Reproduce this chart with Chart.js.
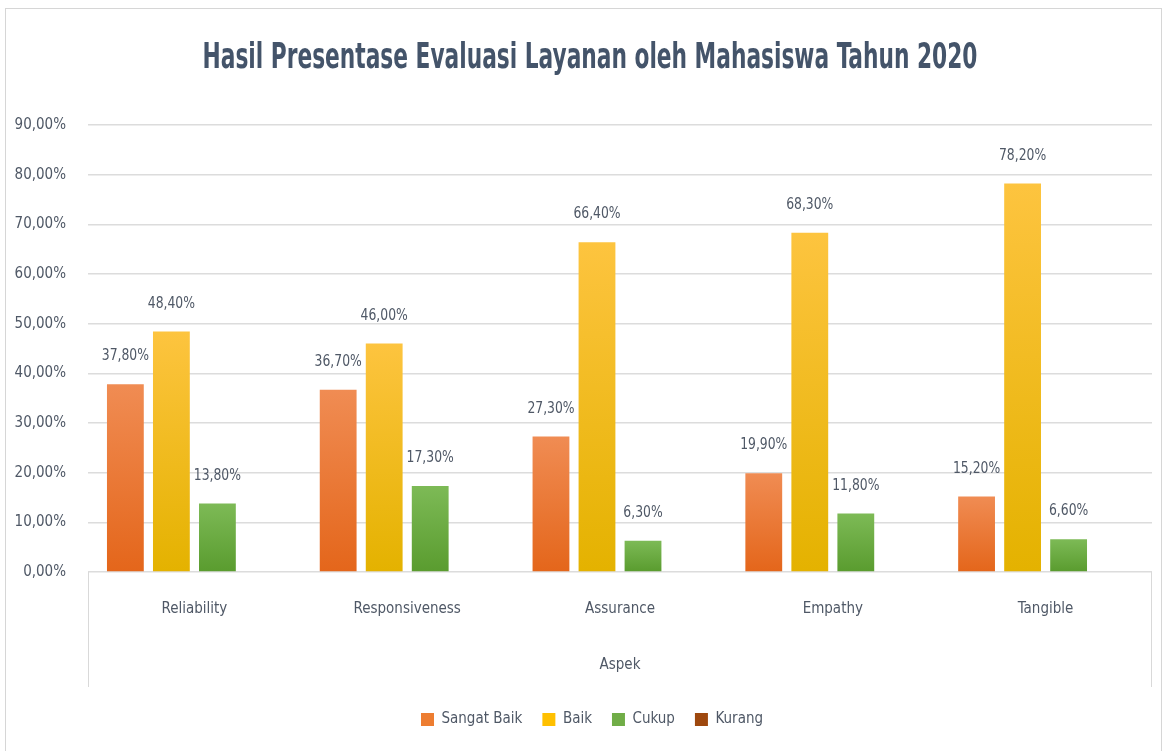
<!DOCTYPE html>
<html>
<head>
<meta charset="utf-8">
<script src="https://cdn.jsdelivr.net/npm/chart.js@4.4.1/dist/chart.umd.min.js"></script>
<style>
  html, body { margin: 0; padding: 0; background: #fff; }
  #frame { position: absolute; left: 5px; top: 8px; width: 1157px; height: 760px; border: 1px solid #d6d6d6; box-sizing: border-box; }
  #wrap { position: absolute; left: 0; top: 0; width: 1170px; height: 751px; }
</style>
</head>
<body>
<div id="frame"></div>
<div id="wrap"><canvas id="c" width="1170" height="751"></canvas></div>
<script>
const categories = ['Reliability', 'Responsiveness', 'Assurance', 'Empathy', 'Tangible'];
const seriesNames = ['Sangat Baik', 'Baik', 'Cukup', 'Kurang'];
const sangatBaik = [37.8, 36.7, 27.3, 19.9, 15.2];
const baik = [48.4, 46.0, 66.4, 68.3, 78.2];
const cukup = [13.8, 17.3, 6.3, 11.8, 6.6];
const kurang = [0, 0, 0, 0, 0];
const yTicks = [0, 10, 20, 30, 40, 50, 60, 70, 80, 90];
const titleText = 'Hasil Presentase Evaluasi Layanan oleh Mahasiswa Tahun 2020';
const axisTitle = 'Aspek';

const FONT = "'DejaVu Sans Condensed', 'Liberation Sans Narrow', 'Roboto', sans-serif";
const TXT = '#4f5866';

const solid = ['#ed7d31', '#ffc000', '#70ad47', '#9e480e'];
const grads = [
  ['#f08c53', '#e4661b'],
  ['#fdc43f', '#e4b200'],
  ['#7dba56', '#5a9c2f'],
  ['#b0551a', '#8c3d0b']
];

function fmt(v) { return v.toFixed(2).replace('.', ',') + '%'; }

const gradientPlugin = {
  id: 'barGradient',
  beforeDatasetsDraw(chart) {
    const ctx = chart.ctx;
    chart.data.datasets.forEach((ds, di) => {
      const meta = chart.getDatasetMeta(di);
      meta.data.forEach(el => {
        const top = Math.min(el.y, el.base), bot = Math.max(el.y, el.base);
        if (bot - top < 1) return;
        const g = ctx.createLinearGradient(0, top, 0, bot);
        g.addColorStop(0, grads[di][0]);
        g.addColorStop(1, grads[di][1]);
        el.options = Object.assign({}, el.options, { backgroundColor: g });
      });
    });
  }
};

const labelPlugin = {
  id: 'valueLabels',
  afterDatasetsDraw(chart) {
    const ctx = chart.ctx;
    chart.data.datasets.forEach((ds, di) => {
      const meta = chart.getDatasetMeta(di);
      meta.data.forEach((el, i) => {
        const v = ds.data[i];
        if (!v) return;
        ctx.save();
        ctx.font = "16px " + FONT;
        ctx.fillStyle = TXT;
        ctx.textAlign = 'center';
        ctx.textBaseline = 'middle';
        ctx.translate(el.x, el.y - 28);
        ctx.scale(0.86, 1);
        ctx.fillText(fmt(v), 0, 0);
        ctx.restore();
      });
    });
  }
};

const boxPlugin = {
  id: 'axisBox',
  afterLayout(chart) {
    if (chart.legend) { chart.legend.left += 11; chart.legend.right += 11; }
  },
  afterDraw(chart) {
    const a = chart.chartArea;
    const ctx = chart.ctx;
    ctx.save();
    ctx.strokeStyle = '#d9d9d9';
    ctx.lineWidth = 1;
    ctx.beginPath();
    ctx.moveTo(Math.round(a.left) + 0.5, a.bottom);
    ctx.lineTo(Math.round(a.left) + 0.5, a.bottom + 115);
    ctx.moveTo(Math.round(a.right) - 0.5, a.bottom);
    ctx.lineTo(Math.round(a.right) - 0.5, a.bottom + 115);
    ctx.stroke();
    ctx.restore();
  }
};

const condensedTitle = {
  id: 'condensedTitle',
  afterLayout(chart) {
    const tb = chart.titleBlock;
    if (!tb || tb._condensed) return;
    const orig = tb.draw.bind(tb);
    tb.draw = function (area) {
      const ctx = chart.ctx;
      const cx = (tb.left + tb.right) / 2;
      ctx.save();
      ctx.translate(cx + 9, 0);
      ctx.scale(0.69, 1);
      ctx.translate(-cx, 0);
      orig(area);
      ctx.restore();
    };
    tb._condensed = true;
  }
};

const seriesData = [sangatBaik, baik, cukup, kurang];

new Chart(document.getElementById('c'), {
  type: 'bar',
  data: {
    labels: categories,
    datasets: seriesNames.map((n, i) => ({
      label: n,
      data: seriesData[i],
      backgroundColor: solid[i],
      borderWidth: 0,
      categoryPercentage: 0.865,
      barPercentage: 0.8
    }))
  },
  options: {
    responsive: false,
    animation: false,
    layout: { padding: { left: 10, right: 18, top: 0, bottom: 14 } },
    plugins: {
      title: {
        display: true,
        text: titleText,
        color: '#44546a',
        font: { family: FONT, size: 35, weight: 'bold' },
        padding: { top: 38, bottom: 45 }
      },
      legend: {
        position: 'bottom',
        labels: {
          color: TXT,
          font: { family: FONT, size: 15 },
          boxWidth: 13,
          boxHeight: 13,
          padding: 20
        }
      },
      tooltip: { enabled: false }
    },
    scales: {
      x: {
        grid: { display: false, drawTicks: false },
        border: { display: false },
        ticks: { color: TXT, font: { family: FONT, size: 15 }, padding: 28 },
        title: { display: true, text: axisTitle, color: TXT, font: { family: FONT, size: 15 }, padding: { top: 4, bottom: 18 } },
        afterFit(s) { s.height = 120; }
      },
      y: {
        min: 0, max: 90,
        afterBuildTicks(s) { s.ticks = yTicks.map(v => ({ value: v })); },
        grid: { color: '#dcdcdc', drawTicks: false, lineWidth: 1.5 },
        border: { display: false },
        ticks: { color: TXT, font: { family: FONT, size: 15 }, padding: 22, callback: v => fmt(v) },
        afterFit(s) { s.width = 78; }
      }
    }
  },
  plugins: [gradientPlugin, labelPlugin, boxPlugin, condensedTitle]
});
</script>
</body>
</html>
